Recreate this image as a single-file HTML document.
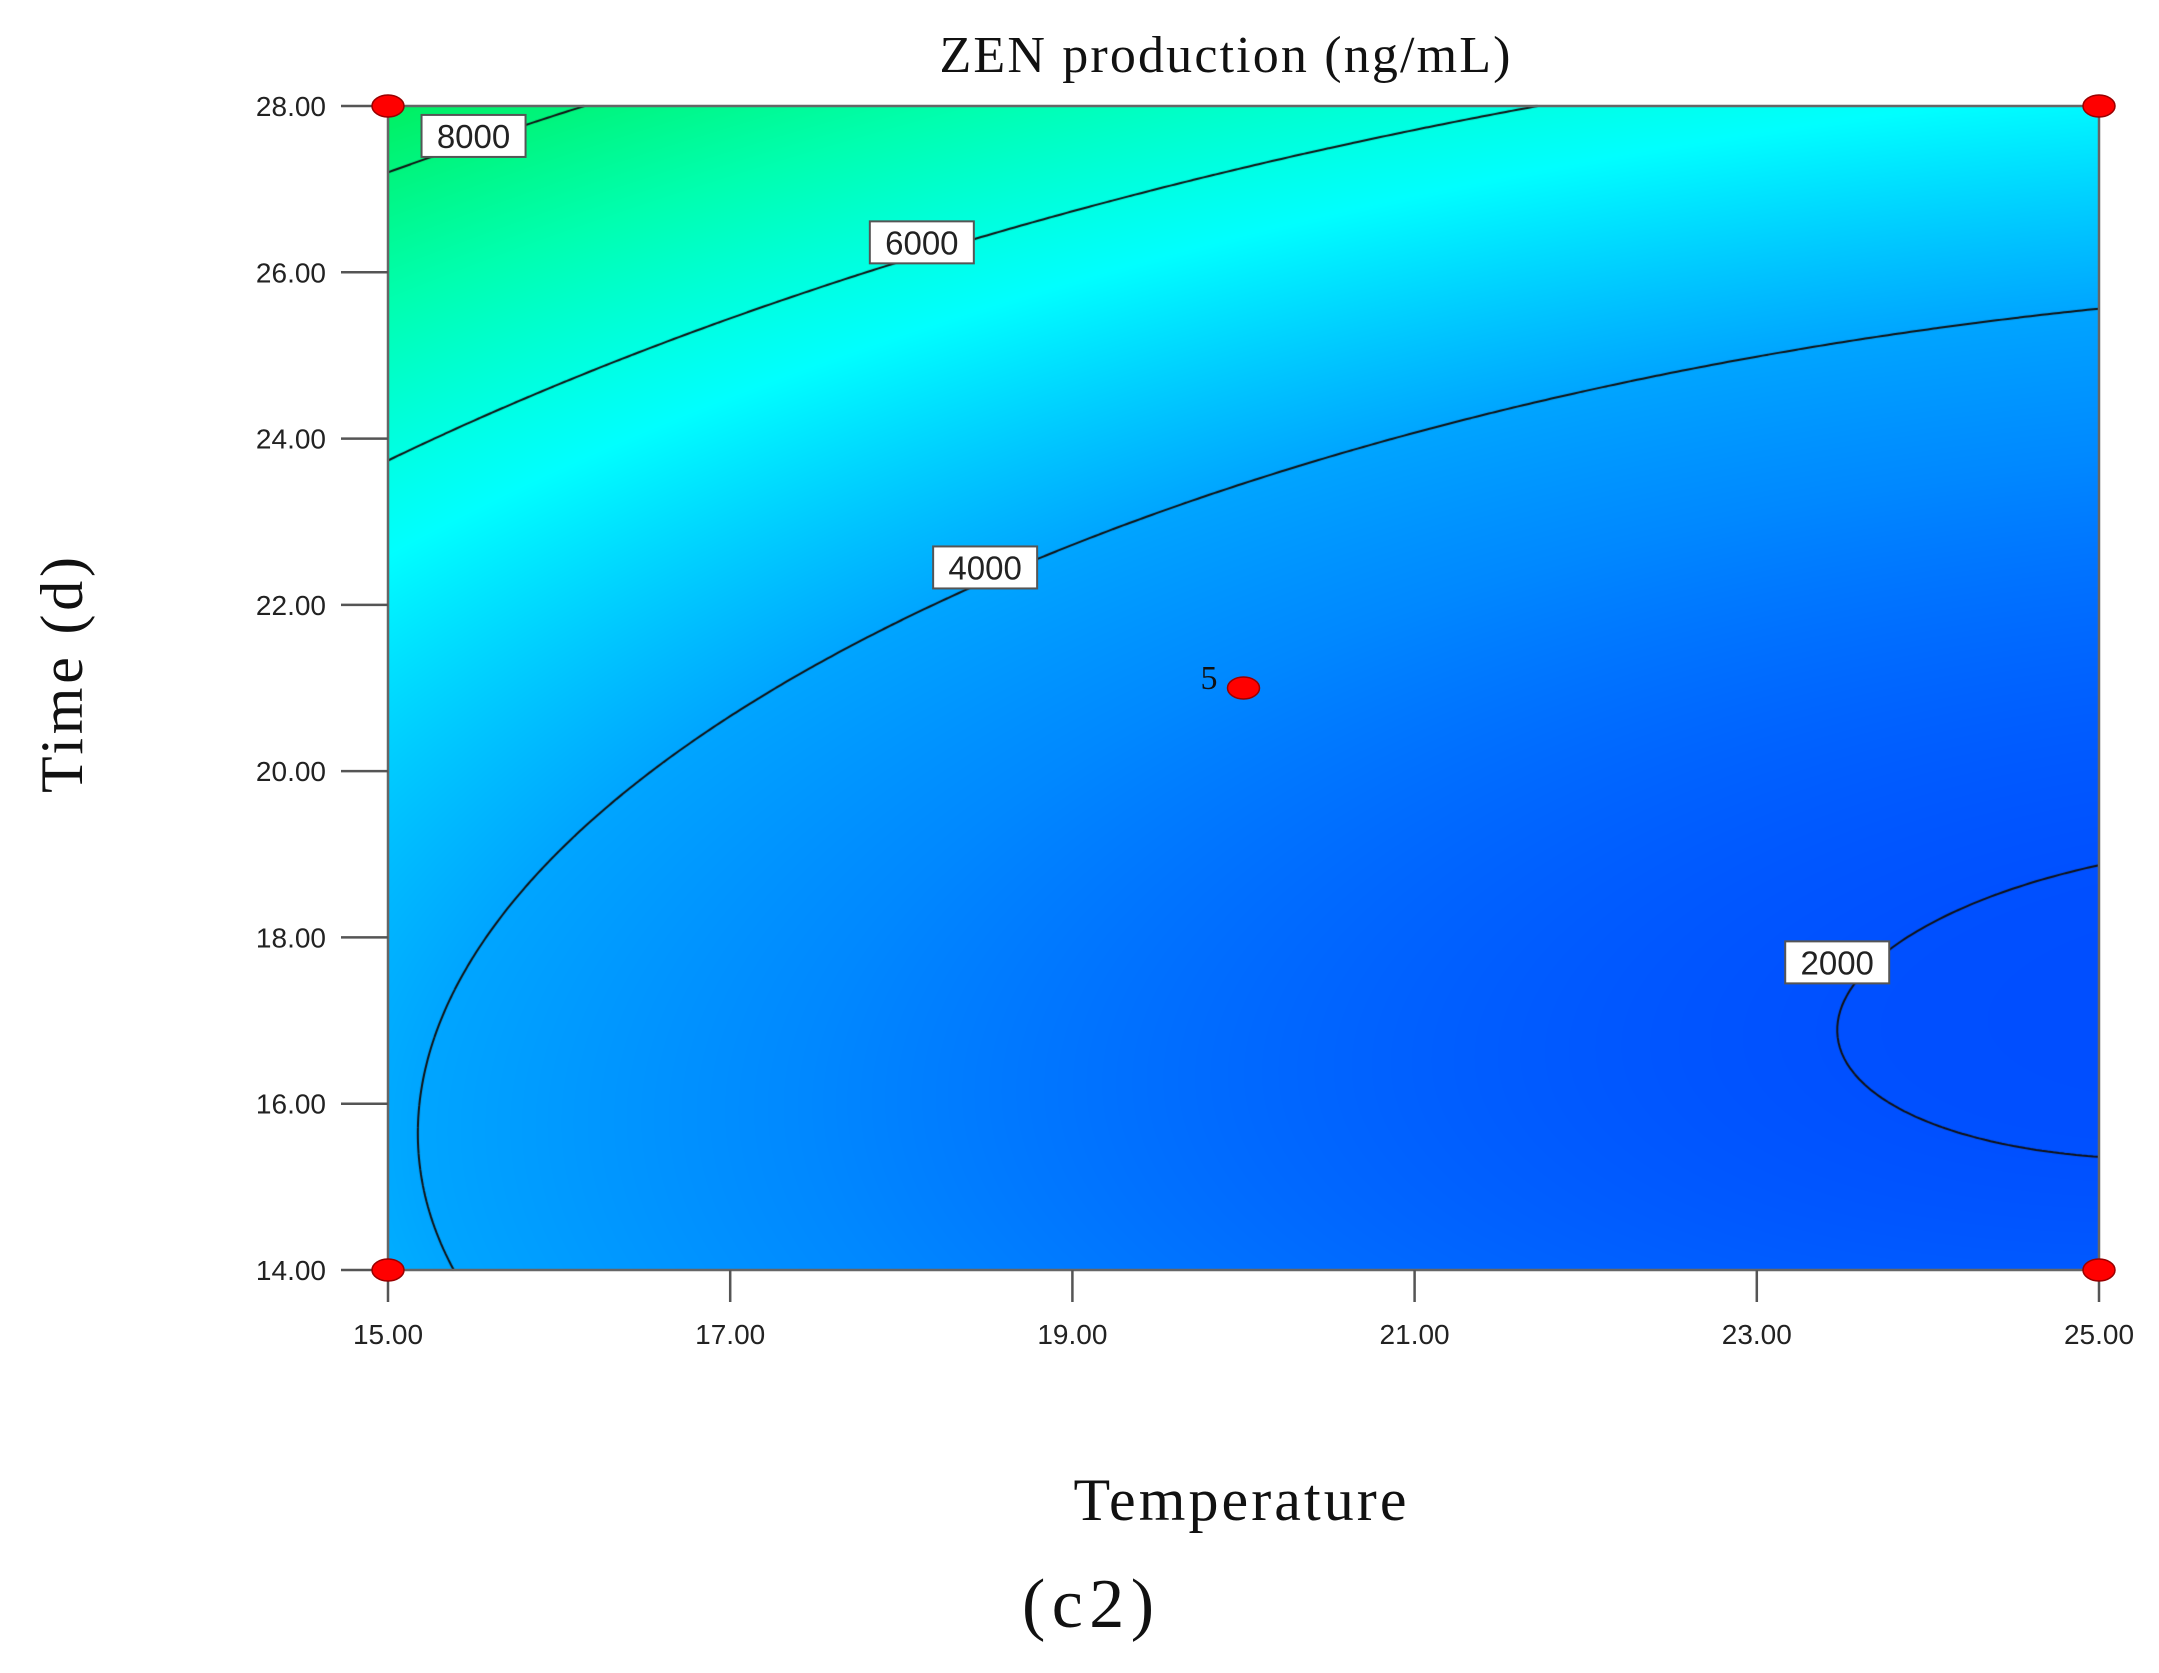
<!DOCTYPE html>
<html><head><meta charset="utf-8">
<style>
html,body{margin:0;padding:0;background:#fff;}
#wrap{position:relative;width:2159px;height:1673px;overflow:hidden;}
canvas{position:absolute;left:0;top:0;}
svg{position:absolute;left:0;top:0;}
</style></head>
<body>
<div id="wrap">
<canvas id="heat" width="2159" height="1673"></canvas>
<svg id="svg" width="2159" height="1673"></svg>
</div>
<script>
// ---- data ----
const xTicks = [15, 17, 19, 21, 23, 25];
const yTicks = [14, 16, 18, 20, 22, 24, 26, 28];
const contourLevels = [2000, 4000, 6000, 8000];
// quadratic response-surface coefficients (coded units): a, b(x), c(y), d(x^2), e(y^2), f(xy)
const modelCoefs = [3155, -1283, 1900, 480, 1435, -307];
const designPtTemp = [15, 15, 25, 25, 20];
const designPtTime = [14, 28, 14, 28, 21];
const designPtCount = [1, 1, 1, 1, 5];
const labelTemp = [15.50, 18.12, 18.49, 23.47];
const labelTime = [27.64, 26.36, 22.45, 17.70];
const labelText = ["8000", "6000", "4000", "2000"];

const L = 388, R = 2099, T = 106, B = 1270;
const xMin = 15, xMax = 25, yMin = 14, yMax = 28;
const sx = v => L + (v - xMin) / (xMax - xMin) * (R - L);
const sy = v => B - (v - yMin) / (yMax - yMin) * (B - T);
function model(temp, time) {
  const x = (temp - 20) / 5, y = (time - 21) / 7;
  const [a, b, c, d, e, f] = modelCoefs;
  return a + b * x + c * y + d * x * x + e * y * y + f * x * y;
}
const cmapV = [1000, 2000, 3200, 4000, 5500, 7000, 8700];
const cmapC = [[0,56,255],[0,80,255],[0,136,255],[0,165,255],[0,255,255],[0,255,176],[0,238,90]];
function color(v) {
  if (v <= cmapV[0]) return cmapC[0];
  for (let i = 1; i < cmapV.length; i++) {
    if (v <= cmapV[i]) {
      const t = (v - cmapV[i-1]) / (cmapV[i] - cmapV[i-1]);
      return cmapC[i-1].map((c, k) => c + (cmapC[i][k] - c) * t);
    }
  }
  return cmapC[cmapC.length - 1];
}
const cv = document.getElementById('heat');
const ctx = cv.getContext('2d');
const w = R - L, h = B - T;
const img = ctx.createImageData(w, h);
for (let j = 0; j < h; j++) {
  const time = yMax - (j / h) * (yMax - yMin);
  for (let i = 0; i < w; i++) {
    const temp = xMin + (i / w) * (xMax - xMin);
    const c = color(model(temp, time));
    const p = (j * w + i) * 4;
    img.data[p] = c[0]; img.data[p+1] = c[1]; img.data[p+2] = c[2]; img.data[p+3] = 255;
  }
}
ctx.putImageData(img, L, T);

ctx.strokeStyle = '#111'; ctx.lineWidth = 2;
const NX = 300, NY = 220;
const grid = [];
for (let j = 0; j <= NY; j++) { grid.push([]); for (let i = 0; i <= NX; i++) grid[j].push(model(xMin + i / NX * (xMax - xMin), yMin + j / NY * (yMax - yMin))); }
const gx = i => sx(xMin + i / NX * (xMax - xMin)), gy = j => sy(yMin + j / NY * (yMax - yMin));
contourLevels.forEach(lv => {
  ctx.beginPath();
  for (let j = 0; j < NY; j++) for (let i = 0; i < NX; i++) {
    const v = [grid[j][i], grid[j][i+1], grid[j+1][i+1], grid[j+1][i]];
    const P = [[i,j],[i+1,j],[i+1,j+1],[i,j+1]];
    const pts = [];
    for (let k = 0; k < 4; k++) {
      const a = v[k], b = v[(k+1)%4];
      if ((a < lv) !== (b < lv)) {
        const t = (lv - a) / (b - a);
        const pa = P[k], pb = P[(k+1)%4];
        pts.push([gx(pa[0] + (pb[0]-pa[0])*t), gy(pa[1] + (pb[1]-pa[1])*t)]);
      }
    }
    if (pts.length >= 2) { ctx.moveTo(pts[0][0], pts[0][1]); ctx.lineTo(pts[1][0], pts[1][1]); }
    if (pts.length === 4) { ctx.moveTo(pts[2][0], pts[2][1]); ctx.lineTo(pts[3][0], pts[3][1]); }
  }
  ctx.stroke();
});

const NS = 'http://www.w3.org/2000/svg';
const svg = document.getElementById('svg');
function el(tag, attrs, parent) {
  const e = document.createElementNS(NS, tag);
  for (const k in attrs) e.setAttribute(k, attrs[k]);
  (parent || svg).appendChild(e); return e;
}
let e;
e = el('rect', {x: L, y: T, width: R - L, height: B - T, fill: 'none', stroke: '#666', 'stroke-width': 2.5});



xTicks.forEach(v => {
  const x = sx(v);
  let t = el('line', {x1: x, x2: x, y1: B, y2: B + 32, stroke: '#555', 'stroke-width': 2.5});
  
  
  let lb = el('text', {x: x, y: B + 74, 'text-anchor': 'middle', 'font-family': 'Liberation Sans, sans-serif', 'font-size': 28, fill: '#222'});
  lb.textContent = v.toFixed(2);
  
  
});
yTicks.forEach(v => {
  const y = sy(v);
  let t = el('line', {x1: L - 47, x2: L, y1: y, y2: y, stroke: '#555', 'stroke-width': 2.5});
  
  
  let lb = el('text', {x: L - 62, y: y + 10, 'text-anchor': 'end', 'font-family': 'Liberation Sans, sans-serif', 'font-size': 28, fill: '#222'});
  lb.textContent = v.toFixed(2);
  
  
});

labelText.forEach((txt, i) => {
  const cx = sx(labelTemp[i]), cy = sy(labelTime[i]);
  const g = el('g', {});
  
  
  el('rect', {x: cx - 52, y: cy - 21, width: 104, height: 42, fill: '#fff', stroke: '#555', 'stroke-width': 2}, g);
  const t = el('text', {x: cx, y: cy + 12, 'text-anchor': 'middle', 'font-family': 'Liberation Sans, sans-serif', 'font-size': 33, fill: '#222'}, g);
  t.textContent = txt;
});

designPtTemp.forEach((tp, i) => {
  const cx = sx(tp), cy = sy(designPtTime[i]);
  const p = el('ellipse', {cx: cx, cy: cy, rx: 16, ry: 11, fill: '#ff0000', stroke: '#900', 'stroke-width': 1.5});
  
  
  if (designPtCount[i] > 1) {
    const t = el('text', {x: cx - 26, y: cy + 1, 'text-anchor': 'end', 'font-family': 'Liberation Serif, serif', 'font-size': 34, fill: '#111'});
    t.textContent = String(designPtCount[i]);
    
    
  }
});

e = el('text', {x: 1225, y: 72, 'text-anchor': 'middle', 'font-family': 'Liberation Serif, serif', 'font-size': 52, fill: '#111', textLength: 571});
e.textContent = 'ZEN production (ng/mL)';


e = el('text', {x: 0, y: 0, 'text-anchor': 'middle', 'font-family': 'Liberation Serif, serif', 'font-size': 60, fill: '#111', transform: 'translate(82,675) rotate(-90)', textLength: 236});
e.textContent = 'Time (d)';


e = el('text', {x: 1240, y: 1520, 'text-anchor': 'middle', 'font-family': 'Liberation Serif, serif', 'font-size': 60, fill: '#111', textLength: 333});
e.textContent = 'Temperature';


e = el('text', {x: 1088, y: 1627, 'text-anchor': 'middle', 'font-family': 'Liberation Serif, serif', 'font-size': 70, fill: '#111', textLength: 132});
e.textContent = '(c2)';


</script>
</body></html>
